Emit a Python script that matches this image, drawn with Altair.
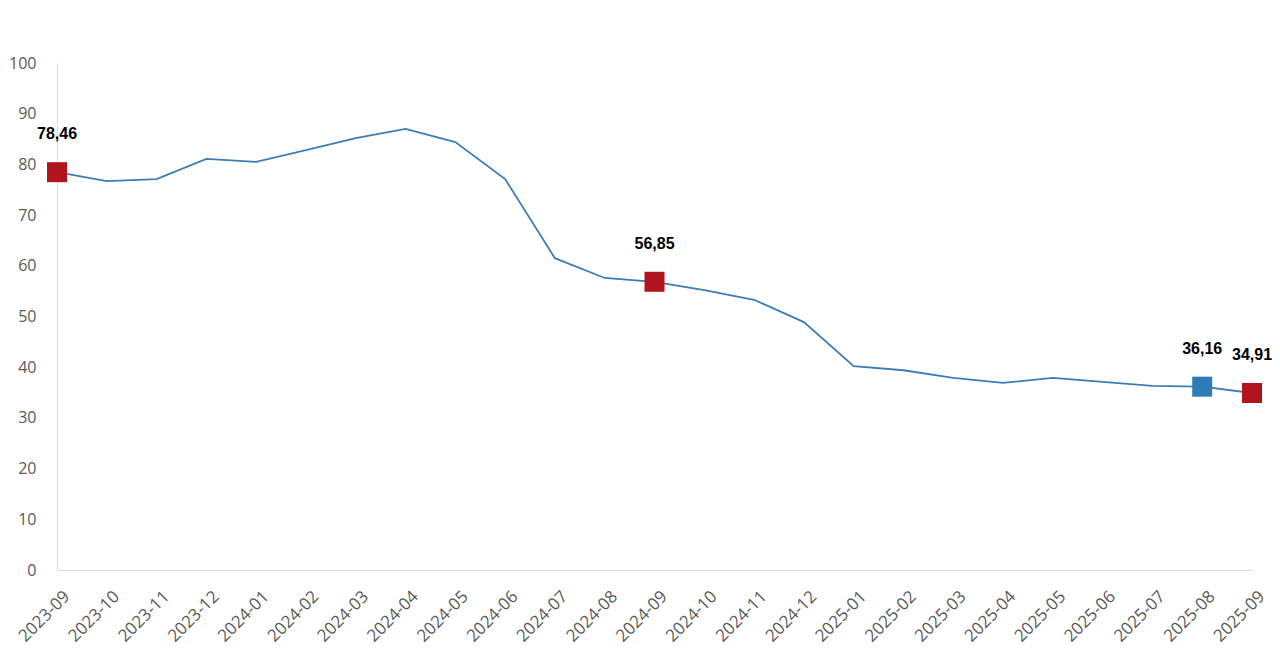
import altair as alt
import pandas as pd

months = ["2023-09", "2023-10", "2023-11", "2023-12", "2024-01", "2024-02", "2024-03",
          "2024-04", "2024-05", "2024-06", "2024-07", "2024-08", "2024-09", "2024-10",
          "2024-11", "2024-12", "2025-01", "2025-02", "2025-03", "2025-04", "2025-05",
          "2025-06", "2025-07", "2025-08", "2025-09"]
values = [78.46, 76.7, 77.1, 81.1, 80.5, 82.8, 85.2,
          87.0, 84.4, 77.1, 61.5, 57.6, 56.85, 55.2,
          53.3, 48.9, 40.2, 39.4, 37.9, 36.9, 37.9,
          37.1, 36.3, 36.16, 34.91]
highlight_months = ["2023-09", "2024-09", "2025-08", "2025-09"]
highlight_kind = ["red", "red", "blue", "red"]

df = pd.DataFrame({"month": months, "value": values})
hl = pd.DataFrame({"month": highlight_months, "kind": highlight_kind})
hl = hl.merge(df, on="month")
hl["label"] = hl["value"].map(lambda v: f"{v:.2f}".replace(".", ","))

x = alt.X("month:O", sort=months, title=None,
          scale=alt.Scale(type="point", padding=0),
          axis=alt.Axis(labelAngle=-45, ticks=False, domainColor="#d9d9d9",
                        labelFont="Open Sans", labelFontSize=17, labelColor="#595959",
                        labelPadding=18, labelOffset=4, domainWidth=1))
y = alt.Y("value:Q", title=None,
          scale=alt.Scale(domain=[0, 100]),
          axis=alt.Axis(values=list(range(0, 101, 10)), grid=False, ticks=False,
                        domainColor="#d9d9d9", labelFont="Open Sans", labelFontSize=16,
                        labelColor="#595959", labelPadding=21))

line = alt.Chart(df).mark_line(color="#3C7DB5", strokeWidth=1.8).encode(x=x, y=y)

points = alt.Chart(hl).mark_square(size=400, opacity=1).encode(
    x=alt.X("month:O", sort=months),
    y="value:Q",
    color=alt.Color("kind:N", scale=alt.Scale(domain=["red", "blue"],
                                              range=["#B0141C", "#2E7BB8"]), legend=None),
)

labels = alt.Chart(hl).mark_text(font="Liberation Sans", fontWeight="bold", fontSize=16,
                                 color="#000000", dy=-38, baseline="middle").encode(
    x=alt.X("month:O", sort=months),
    y="value:Q",
    text="label:N",
)

chart = alt.layer(line, points, labels).properties(
    width=1195, height=507,
    padding={"left": 49, "top": 55, "right": 20, "bottom": 80},
    autosize=alt.AutoSizeParams(type="none"),
).configure_view(stroke=None)

chart.save("out.html", embed_options={"renderer": "svg", "actions": False})
